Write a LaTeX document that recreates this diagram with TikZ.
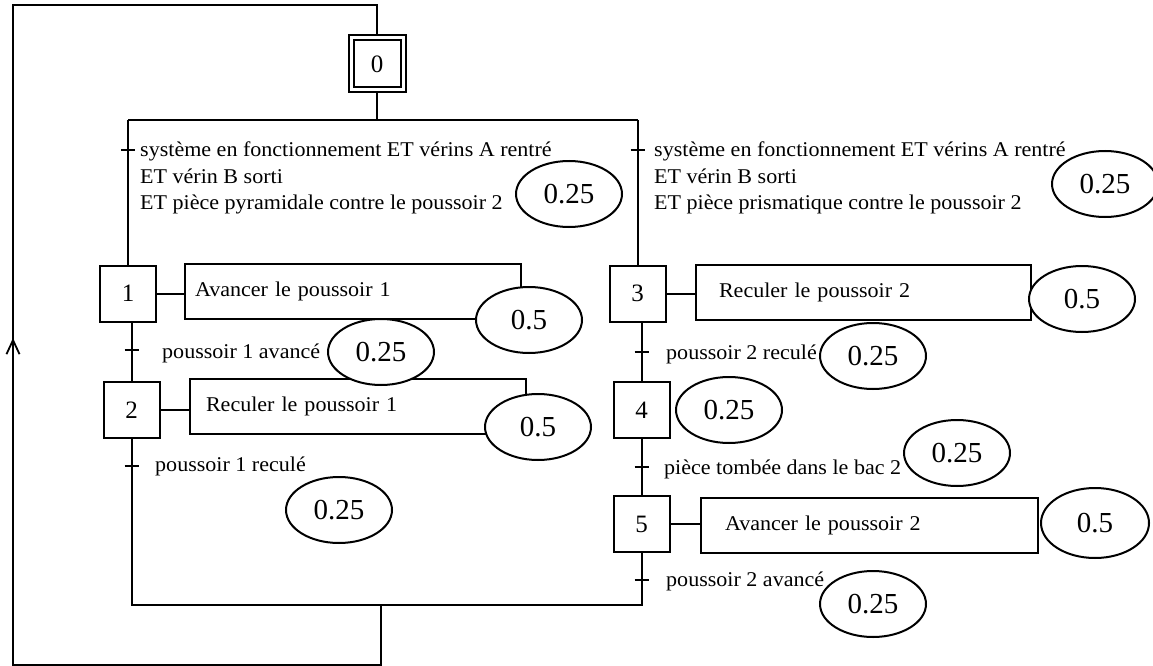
\documentclass[tikz,border=0pt]{standalone}
\usepackage{fontspec}
\setmainfont{Liberation Serif}[FakeStretch=1.05]
\newfontfamily\numfont{Liberation Serif}
\usetikzlibrary{shapes.geometric,arrows.meta,decorations.markings}
\newcommand\trfont{\fontsize{21}{26.5}\selectfont}
\begin{document}
\begin{tikzpicture}[x=1pt,y=-1pt,
  ln/.style={line width=2pt},
  stepbox/.style={draw,line width=2pt,minimum width=56pt,minimum height=56pt,inner sep=0pt,fill=white,
    font=\numfont\fontsize{25}{28}\selectfont},
  initstep/.style={stepbox,minimum width=52pt,minimum height=52pt,double,double distance=3pt,outer sep=3.5pt},
  act/.style={draw,line width=2pt,minimum height=55pt,anchor=west,align=left,inner ysep=0pt,font=\trfont},
  ell/.style={ellipse,draw,fill=white,line width=2pt,minimum width=106pt,minimum height=66pt,inner sep=0pt,
    font=\numfont\fontsize{29}{34}\selectfont},
  tr/.style={inner sep=0pt,align=left,font=\trfont},
  tick/.style={line width=2pt}
]
\useasboundingbox (0,0) rectangle (1153,666);

% steps
\node[initstep] (s0) at (377,64) {0};
\node[stepbox] (s1) at (128,293.5) {1};
\node[stepbox] (s2) at (131.5,410) {2};
\node[stepbox] (s3) at (637.5,293.5) {3};
\node[stepbox] (s4) at (641.5,410) {4};
\node[stepbox] (s5) at (641.5,524) {5};

% actions
\node[act,text width=316pt,inner xsep=10pt] (a1) at (184,291) {Avancer le poussoir 1};
\node[act,text width=304pt,inner xsep=16pt] (a2) at (189,406) {Reculer le poussoir 1};
\node[act,text width=289pt,inner xsep=23pt] (a3) at (695,292.5) {Reculer le poussoir 2};
\node[act,text width=289pt,inner xsep=24pt] (a5) at (700,525.5) {Avancer le poussoir 2};

\draw[ln] (s1.east) -- (s1.east -| a1.west);
\draw[ln] (s2.east) -- (s2.east -| a2.west);
\draw[ln] (s3.east) -- (s3.east -| a3.west);
\draw[ln] (s5.east) -- (s5.east -| a5.west);

% divergence / convergence
\coordinate (divL) at (128,120);
\coordinate (divR) at (637.5,120);
\coordinate (mL) at (131.5,605);
\coordinate (mR) at (641.5,605);
\coordinate (mC) at (381,605);
\coordinate (c1) at (381,665);
\coordinate (c2) at (13,665);
\coordinate (c3) at (13,5);
\coordinate (c4) at (377,5);

\draw[ln] (s0.south) -- (s0.south |- divL);
\draw[ln] (divL) -- (divR);
\draw[ln] (divL) -- (s1.north);
\draw[ln] (divR) -- (s3.north);
\draw[ln] (s2.north |- s1.south) -- (s2.north);
\draw[ln] (s4.north |- s3.south) -- (s4.north);
\draw[ln] (s4.south) -- (s5.north);
\draw[ln] (s2.south) -- (mL) -- (mR) -- (s5.south);
\draw[ln,postaction={decorate},decoration={markings,
    mark=at position 755pt with {\arrow{Straight Barb[length=14pt,width=13pt,line width=1.8pt]}}}]
  (mC) -- (c1) -- (c2) -- (c3) -- (c4) -- (s0.north);

% transitions
\coordinate (t01) at (128,150);
\coordinate (t03) at (637.5,150);
\coordinate (t12) at (131.5,350);
\coordinate (t2e) at (131.5,466);
\coordinate (t34) at (641.5,352);
\coordinate (t45) at (641.5,467);
\coordinate (t5e) at (641.5,580);
\foreach \t in {t01,t03,t12,t2e,t34,t45,t5e}
  \draw[tick] ([xshift=-7pt]\t) -- ([xshift=7pt]\t);

\node[tr,anchor=north west] (r01) at (140,142) {système en fonctionnement ET vérins A rentré\\ET vérin B sorti\\ET pièce pyramidale contre le poussoir 2};
\node[tr,anchor=north west] (r03) at (654,142) {système en fonctionnement ET vérins A rentré\\ET vérin B sorti\\ET pièce prismatique contre le poussoir 2};
\node[tr,anchor=base west] (r12) at (162,358) {poussoir 1 avancé};
\node[tr,anchor=base west] (r2e) at (155,471) {poussoir 1 reculé};
\node[tr,anchor=base west] (r34) at (666,359) {poussoir 2 reculé};
\node[tr,anchor=base west] (r45) at (664,474) {pièce tombée dans le bac 2};
\node[tr,anchor=base west] (r5e) at (666,586) {poussoir 2 avancé};

% marks
\node[ell] (e01) at (569,194) {0.25};
\node[ell] (e03) at (1105,184) {0.25};
\node[ell] (ea1) at (529,320) {0.5};
\node[ell] (e12) at (381,352) {0.25};
\node[ell] (ea2) at (538,427) {0.5};
\node[ell] (e2e) at (339,510) {0.25};
\node[ell] (ea3) at (1082,299) {0.5};
\node[ell] (e34) at (873,356) {0.25};
\node[ell] (es4) at (729,410) {0.25};
\node[ell] (e45) at (957,453) {0.25};
\node[ell,minimum width=108pt,minimum height=70pt] (ea5) at (1095,523) {0.5};
\node[ell] (e5e) at (873,604) {0.25};
\end{tikzpicture}
\end{document}
